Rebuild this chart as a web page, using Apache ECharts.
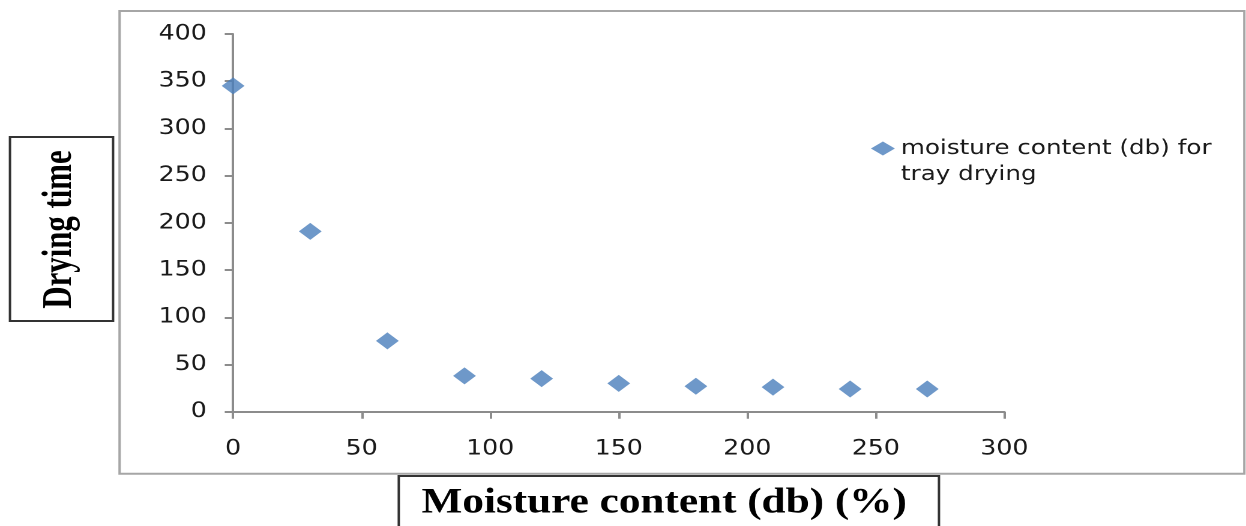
<!DOCTYPE html>
<html>
<head>
<meta charset="utf-8">
<script src="https://cdn.jsdelivr.net/npm/echarts@6/dist/echarts.min.js"></script>
<style>
  html, body { margin: 0; padding: 0; background: #fff; overflow: hidden; }
  #wrap { width: 1246px; height: 526px; overflow: hidden; }
  /* the reference picture is stretched horizontally; reproduce that stretch */
  #chart { width: 1038px; height: 526px; transform: scaleX(1.2004); transform-origin: 0 0; }
</style>
</head>
<body>
<div id="wrap"><div id="chart"></div></div>
<script>
const moistureContent = [0, 30, 60, 90, 120, 150, 180, 210, 240, 270];
const dryingTime = [345, 191, 75, 38, 35, 30, 27, 26, 24, 24];
const seriesName = 'moisture content (db) for tray drying';
const legendLines = ['moisture content (db) for', 'tray drying'];
const xTitle = 'Moisture content (db) (%)';
const yTitle = 'Drying time';

const chart = echarts.init(document.getElementById('chart'), null, { renderer: 'canvas', devicePixelRatio: 2 });
const tickFont = '"DejaVu Sans", Verdana, sans-serif';
const serifFont = '"Liberation Serif", "Times New Roman", serif';

chart.setOption({
  animation: false,
  backgroundColor: '#ffffff',
  grid: { left: 194.2, right: 201.3, top: 34, bottom: 114.3, containLabel: false },
  xAxis: {
    type: 'value', min: 0, max: 300, interval: 50,
    axisLine: { show: true, lineStyle: { color: '#8c8c8c', width: 2 } },
    axisTick: { show: true, length: 7, lineStyle: { color: '#8c8c8c', width: 2 } },
    splitLine: { show: false },
    axisLabel: { margin: 27, fontFamily: tickFont, fontSize: 21, color: '#1a1a1a' }
  },
  yAxis: {
    type: 'value', min: 0, max: 400, interval: 50,
    axisLine: { show: true, lineStyle: { color: '#8c8c8c', width: 2 } },
    axisTick: { show: true, length: 7, lineStyle: { color: '#8c8c8c', width: 2 } },
    splitLine: { show: false },
    axisLabel: { margin: 22, fontFamily: tickFont, fontSize: 21, color: '#1a1a1a' }
  },
  legend: {
    left: 725.5, top: 109.5, padding: 0,
    orient: 'vertical',
    icon: 'diamond', itemWidth: 20, itemHeight: 14, itemGap: 5,
    formatter: () => '\n' + legendLines.join('\n'),
    textStyle: { fontFamily: tickFont, fontSize: 20.5, color: '#1a1a1a', lineHeight: 26 },
    data: [seriesName]
  },
  series: [{
    name: seriesName,
    type: 'scatter',
    symbol: 'diamond',
    symbolSize: [19, 17],
    itemStyle: { color: '#4a7ebb' },
    data: moistureContent.map((x, i) => [x, dryingTime[i]])
  }],
  graphic: [
    { type: 'rect', z: 0, silent: true,
      shape: { x: 99.6, y: 11, width: 937, height: 462.7 },
      style: { fill: 'none', stroke: '#a6a6a6', lineWidth: 2 } },
    { type: 'rect', z: 10, silent: true,
      shape: { x: 8.3, y: 137, width: 85.9, height: 184 },
      style: { fill: '#ffffff', stroke: '#333333', lineWidth: 2 } },
    { type: 'text', z: 11, silent: true,
      x: 50, y: 229.5, rotation: Math.PI / 2, scaleX: 0.88,
      style: { text: yTitle, font: 'bold 35px ' + serifFont, fill: '#000', align: 'center', verticalAlign: 'middle' } },
    { type: 'rect', z: 10, silent: true,
      shape: { x: 332.2, y: 476, width: 450, height: 80 },
      style: { fill: '#ffffff', stroke: '#333333', lineWidth: 2 } },
    { type: 'text', z: 11, silent: true,
      x: 553.3, y: 503,
      style: { text: xTitle, font: 'bold 36px ' + serifFont, fill: '#000', align: 'center', verticalAlign: 'middle' } }
  ]
});
</script>
</body>
</html>
